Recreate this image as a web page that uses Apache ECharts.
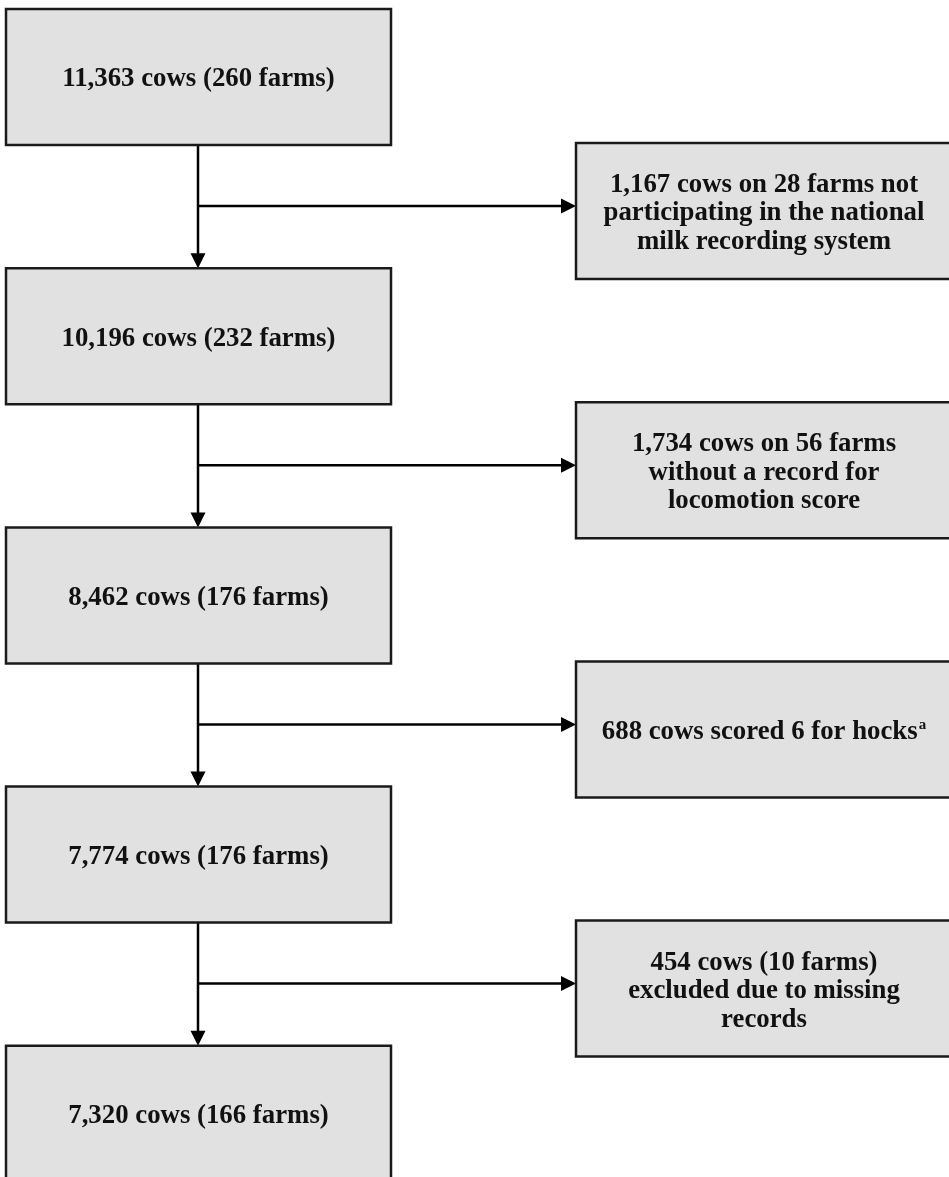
<!DOCTYPE html>
<html>
<head>
<meta charset="utf-8">
<script src="https://cdn.jsdelivr.net/npm/echarts@6/dist/echarts.min.js"></script>
<style>
  html, body { margin: 0; padding: 0; background: #ffffff; }
  #chart { width: 949px; height: 1177px; }
</style>
</head>
<body>
<div id="chart"></div>
<script>
// ---- Data: flowchart stages ----
const mainLabels = [
  '11,363 cows (260 farms)',
  '10,196 cows (232 farms)',
  '8,462 cows (176 farms)',
  '7,774 cows (176 farms)',
  '7,320 cows (166 farms)'
];
const excludedLabels = [
  '1,167 cows on 28 farms not\nparticipating in the national\nmilk recording system',
  '1,734 cows on 56 farms\nwithout a record for\nlocomotion score',
  '688 cows scored 6 for hocks{sup|a}',
  '454 cows (10 farms)\nexcluded due to missing\nrecords'
];

// ---- Layout (pixel units on hidden axes) ----
const W = 949, H = 1177;
const MAIN_X0 = 6, MAIN_X1 = 391, SPINE_X = 198;
const BOX_H = 136, MAIN_TOP0 = 9, PITCH = 259.2;
const EX_X0 = 576, EX_X1 = 952, EX_OFFSET = 134, BRANCH_OFFSET = 197;
const ARROW_LEN = 15, ARROW_HALF = 7.5;
const FILL = '#e1e1e1', STROKE = '#1a1a1a', LW = 2.5;
const FONT_FAMILY = '"Liberation Serif", "Times New Roman", serif';
const FONT_SIZE = 26.8;
const TEXT_DY = 2.5;

function mainTop(i) { return MAIN_TOP0 + i * PITCH; }

function boxGroup(api, x0, y0, x1, y1, text) {
  const p0 = api.coord([x0, y0]);
  const p1 = api.coord([x1, y1]);
  return {
    type: 'group',
    children: [
      {
        type: 'rect',
        shape: { x: p0[0], y: p0[1], width: p1[0] - p0[0], height: p1[1] - p0[1] },
        style: { fill: FILL, stroke: STROKE, lineWidth: LW }
      },
      {
        type: 'text',
        style: {
          x: (p0[0] + p1[0]) / 2,
          y: (p0[1] + p1[1]) / 2 + TEXT_DY,
          text: text,
          fill: '#111111',
          fontFamily: FONT_FAMILY,
          fontWeight: 'bold',
          fontSize: FONT_SIZE,
          lineHeight: 28.5,
          align: 'center',
          verticalAlign: 'middle',
          rich: {
            sup: {
              fontFamily: FONT_FAMILY,
              fontWeight: 'bold',
              fontSize: 15,
              lineHeight: 28.5,
              verticalAlign: 'top',
              padding: [0, 0, 10, 1],
              fill: '#111111'
            }
          }
        }
      }
    ]
  };
}

const option = {
  backgroundColor: '#ffffff',
  animation: false,
  grid: { left: 0, right: 0, top: 0, bottom: 0 },
  xAxis: { type: 'value', min: 0, max: W, show: false },
  yAxis: { type: 'value', min: 0, max: H, inverse: true, show: false },
  series: [
    {
      name: 'connectors',
      type: 'custom',
      clip: false,
      data: excludedLabels.map((t, i) => [i, i]),
      renderItem: function (params, api) {
        const i = params.dataIndex;
        const bottom = mainTop(i) + BOX_H;
        const nextTop = mainTop(i + 1);
        const by = mainTop(i) + BRANCH_OFFSET;
        const a = api.coord([SPINE_X, bottom]);
        const b = api.coord([SPINE_X, nextTop - ARROW_LEN + 1]);
        const tip = api.coord([SPINE_X, nextTop]);
        const h0 = api.coord([SPINE_X, by]);
        const h1 = api.coord([EX_X0 - ARROW_LEN + 1, by]);
        const htip = api.coord([EX_X0, by]);
        const lineStyle = { stroke: '#000000', lineWidth: LW };
        return {
          type: 'group',
          children: [
            { type: 'line', shape: { x1: a[0], y1: a[1], x2: b[0], y2: b[1] }, style: lineStyle },
            {
              type: 'polygon',
              shape: { points: [[tip[0], tip[1]], [tip[0] - ARROW_HALF, tip[1] - ARROW_LEN], [tip[0] + ARROW_HALF, tip[1] - ARROW_LEN]] },
              style: { fill: '#000000' }
            },
            { type: 'line', shape: { x1: h0[0], y1: h0[1], x2: h1[0], y2: h1[1] }, style: lineStyle },
            {
              type: 'polygon',
              shape: { points: [[htip[0], htip[1]], [htip[0] - ARROW_LEN, htip[1] - ARROW_HALF], [htip[0] - ARROW_LEN, htip[1] + ARROW_HALF]] },
              style: { fill: '#000000' }
            }
          ]
        };
      }
    },
    {
      name: 'main',
      type: 'custom',
      clip: false,
      data: mainLabels.map((t, i) => [i, i]),
      renderItem: function (params, api) {
        const i = params.dataIndex;
        const t = mainTop(i);
        return boxGroup(api, MAIN_X0, t, MAIN_X1, t + BOX_H, mainLabels[i]);
      }
    },
    {
      name: 'excluded',
      type: 'custom',
      clip: false,
      data: excludedLabels.map((t, i) => [i, i]),
      renderItem: function (params, api) {
        const i = params.dataIndex;
        const t = mainTop(i) + EX_OFFSET;
        return boxGroup(api, EX_X0, t, EX_X1, t + BOX_H, excludedLabels[i]);
      }
    }
  ]
};

const chart = echarts.init(document.getElementById('chart'), null, { renderer: 'canvas' });
chart.setOption(option);
</script>
</body>
</html>
